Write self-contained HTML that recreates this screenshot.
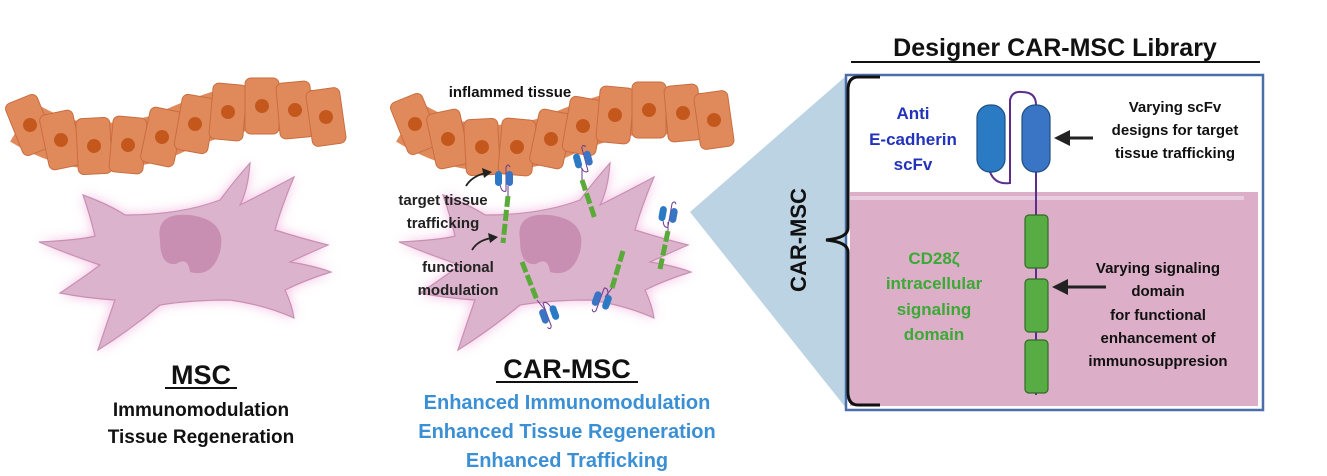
<!DOCTYPE html>
<html><head><meta charset="utf-8"><style>
html,body{margin:0;padding:0;background:#fff}
svg{display:block}
text{font-family:"Liberation Sans",sans-serif;font-weight:bold}
</style></head><body>
<svg width="1327" height="476" viewBox="0 0 1327 476" xmlns="http://www.w3.org/2000/svg">
<defs>
<filter id="glow" x="-20%" y="-20%" width="140%" height="140%"><feGaussianBlur stdDeviation="6"/></filter>
<g id="cell">
<path d="M39,242 Q80,240 95,236 Q90,215 83,195 Q110,205 125,215 Q180,215 220,200 Q235,180 250,163 Q248,190 240,205 Q270,190 294,177 Q282,205 275,230 Q300,238 328,245 Q305,255 290,262 Q315,266 331,272 Q305,280 285,290 Q292,305 294,318 Q265,305 230,300 Q190,300 160,305 Q130,330 98,350 Q108,320 115,300 Q85,298 60,293 Q80,280 100,265 Q70,255 39,242 Z"/>
</g>
<g id="tc"><rect x="-17" y="-28" width="34" height="56" rx="6" fill="#e08a5c" stroke="#c96d3f" stroke-width="1"/><circle cx="0" cy="0" r="7" fill="#c4581c"/></g>
<g id="scfv"><path d="M-4,6 Q-2,14 2,12 L2,-12 Q4,-16 6,-12" fill="none" stroke="#6a3a8a" stroke-width="1"/><rect x="-9" y="-8" width="7" height="15" rx="3.5" fill="#2b7bc4"/><rect x="2" y="-8" width="7" height="15" rx="3.5" fill="#3a74c4"/></g>
</defs>

<!-- left cell -->
<use href="#cell" fill="#f0a8d8" filter="url(#glow)" opacity="0.8"/>
<use href="#cell" fill="#dcb3cc" stroke="#c98fb3" stroke-width="1.2"/>
<path d="M160,240 Q155,212 190,215 Q228,220 220,252 Q212,278 190,272 Q188,256 176,264 Q160,266 160,240Z" fill="#c98fb3"/>

<!-- middle cell -->
<g transform="translate(360,0)">
<use href="#cell" fill="#f0a8d8" filter="url(#glow)" opacity="0.8"/>
<use href="#cell" fill="#dcb3cc" stroke="#c98fb3" stroke-width="1.2"/>
<path d="M160,240 Q155,212 190,215 Q228,220 220,252 Q212,278 190,272 Q188,256 176,264 Q160,266 160,240Z" fill="#c98fb3"/>
</g>

<!-- left tissue -->
<path d="M22,122 Q60,145 94,146 Q130,147 163,136 Q197,120 228,111 Q262,104 294,110 L330,117" fill="none" stroke="#e08a5c" stroke-width="46" stroke-linejoin="round"/>
<g>
<use href="#tc" transform="translate(30,125) rotate(-22)"/>
<use href="#tc" transform="translate(61,140) rotate(-12)"/>
<use href="#tc" transform="translate(94,146) rotate(-3)"/>
<use href="#tc" transform="translate(128,145) rotate(5)"/>
<use href="#tc" transform="translate(162,137) rotate(12)"/>
<use href="#tc" transform="translate(195,124) rotate(10)"/>
<use href="#tc" transform="translate(228,112) rotate(5)"/>
<use href="#tc" transform="translate(262,106) rotate(0)"/>
<use href="#tc" transform="translate(295,110) rotate(-5)"/>
<use href="#tc" transform="translate(326,117) rotate(-8)"/>
</g>
<!-- middle tissue -->
<path d="M408,122 Q446,145 481,148 Q517,149 551,139 Q583,124 615,115 Q649,108 683,113 L716,120" fill="none" stroke="#e08a5c" stroke-width="46" stroke-linejoin="round"/>
<g>
<use href="#tc" transform="translate(415,124) rotate(-22)"/>
<use href="#tc" transform="translate(448,139) rotate(-12)"/>
<use href="#tc" transform="translate(482,147) rotate(-3)"/>
<use href="#tc" transform="translate(517,147) rotate(5)"/>
<use href="#tc" transform="translate(551,139) rotate(12)"/>
<use href="#tc" transform="translate(583,126) rotate(10)"/>
<use href="#tc" transform="translate(615,115) rotate(5)"/>
<use href="#tc" transform="translate(649,110) rotate(0)"/>
<use href="#tc" transform="translate(683,113) rotate(-5)"/>
<use href="#tc" transform="translate(714,120) rotate(-8)"/>
</g>

<!-- receptors -->
<g stroke="#5aaa3a" stroke-width="5" stroke-dasharray="11,3" fill="none">
<line x1="508" y1="196" x2="503" y2="243"/>
<line x1="582" y1="180" x2="595" y2="219"/>
<line x1="668" y1="231" x2="660" y2="269"/>
<line x1="522" y1="262" x2="537" y2="300"/>
<line x1="623" y1="251" x2="612" y2="288"/>
</g>
<g stroke="#6a3a8a" stroke-width="1">
<line x1="508" y1="186" x2="508" y2="196"/><line x1="582" y1="168" x2="582" y2="180"/><line x1="668" y1="222" x2="668" y2="231"/><line x1="537" y1="300" x2="545" y2="310"/><line x1="612" y1="288" x2="605" y2="297"/>
</g>
<use href="#scfv" transform="translate(504,179)"/>
<use href="#scfv" transform="translate(583,160) rotate(-15)"/>
<use href="#scfv" transform="translate(668,215) rotate(10)"/>
<use href="#scfv" transform="translate(549,314) rotate(160)"/>
<use href="#scfv" transform="translate(602,300) rotate(200)"/>

<!-- labels middle -->
<text x="510" y="97" font-size="15" text-anchor="middle" fill="#111">inflammed tissue</text>
<text x="443" y="205" font-size="15" text-anchor="middle" fill="#222">target tissue</text>
<text x="443" y="228" font-size="15" text-anchor="middle" fill="#222">trafficking</text>
<text x="458" y="272" font-size="15" text-anchor="middle" fill="#222">functional</text>
<text x="458" y="295" font-size="15" text-anchor="middle" fill="#222">modulation</text>
<path d="M466,186 Q472,176 486,173" fill="none" stroke="#222" stroke-width="1.8"/>
<polygon points="492,172 482,168 484,178" fill="#222"/>
<path d="M472,250 Q478,240 492,238" fill="none" stroke="#222" stroke-width="1.8"/>
<polygon points="498,237 488,233 490,243" fill="#222"/>

<!-- bottom labels -->
<text x="201" y="384" font-size="27" text-anchor="middle" fill="#111">MSC</text>
<line x1="165" y1="388" x2="237" y2="388" stroke="#111" stroke-width="2"/>
<text x="201" y="416" font-size="19" text-anchor="middle" fill="#111">Immunomodulation</text>
<text x="201" y="443" font-size="19" text-anchor="middle" fill="#111">Tissue Regeneration</text>
<text x="567" y="378" font-size="27" text-anchor="middle" fill="#111">CAR-MSC</text>
<line x1="496" y1="382" x2="638" y2="382" stroke="#111" stroke-width="2"/>
<text x="567" y="409" font-size="20" text-anchor="middle" fill="#3b8fd4">Enhanced Immunomodulation</text>
<text x="567" y="438" font-size="20" text-anchor="middle" fill="#3b8fd4">Enhanced Tissue Regeneration</text>
<text x="567" y="467" font-size="20" text-anchor="middle" fill="#3b8fd4">Enhanced Trafficking</text>

<!-- wedge -->
<polygon points="690,212 846,76 846,408" fill="#bcd3e3"/>

<!-- title -->
<text x="1055" y="56" font-size="25" text-anchor="middle" fill="#111">Designer CAR-MSC Library</text>
<line x1="851" y1="62" x2="1260" y2="62" stroke="#111" stroke-width="2"/>

<!-- box -->
<rect x="846" y="75" width="417" height="335" fill="#fff" stroke="#4a6fa8" stroke-width="2.5"/>
<rect x="850" y="192" width="408" height="214" fill="#dcaec8"/>
<rect x="850" y="196" width="394" height="4" fill="#e8cde0"/>

<!-- bracket -->
<path d="M880,77 L858,77 Q848,77 848,90 L848,228 Q848,238 826,240 Q848,242 848,252 L848,392 Q848,405 858,405 L880,405" fill="none" stroke="#111" stroke-width="3"/>
<text transform="translate(806,240) rotate(-90)" font-size="22" text-anchor="middle" fill="#111">CAR-MSC</text>

<!-- CAR construct -->
<path d="M990,172 Q995,185 1010,183 L1010,100 Q1012,91 1022,92 Q1036,92 1036,105" fill="none" stroke="#5c2d8a" stroke-width="2"/>
<line x1="1036" y1="170" x2="1036" y2="395" stroke="#5c2d8a" stroke-width="2"/>
<rect x="977" y="105" width="28" height="67" rx="13" fill="#2b7bc4" stroke="#1e4f85" stroke-width="1.2"/>
<rect x="1022" y="105" width="28" height="67" rx="13" fill="#3a74c4" stroke="#1e4f85" stroke-width="1.2"/>
<rect x="1025" y="215" width="23" height="53" rx="4" fill="#57ad43" stroke="#2f6b25" stroke-width="1.2"/>
<rect x="1025" y="279" width="23" height="53" rx="4" fill="#57ad43" stroke="#2f6b25" stroke-width="1.2"/>
<rect x="1025" y="340" width="23" height="53" rx="4" fill="#57ad43" stroke="#2f6b25" stroke-width="1.2"/>

<!-- arrows -->
<line x1="1093" y1="138" x2="1066" y2="138" stroke="#222" stroke-width="3"/>
<polygon points="1054,138 1070,130 1070,146" fill="#222"/>
<line x1="1106" y1="287" x2="1064" y2="287" stroke="#222" stroke-width="3"/>
<polygon points="1052,287 1068,279 1068,295" fill="#222"/>

<!-- box texts -->
<g font-size="17" fill="#2233bb" text-anchor="middle">
<text x="913" y="119">Anti</text>
<text x="913" y="145">E-cadherin</text>
<text x="913" y="170">scFv</text>
</g>
<g font-size="15" fill="#111" text-anchor="middle">
<text x="1175" y="112">Varying scFv</text>
<text x="1175" y="135">designs for target</text>
<text x="1175" y="158">tissue trafficking</text>
</g>
<g font-size="17" fill="#3aaa35" text-anchor="middle">
<text x="934" y="264">CD28ζ</text>
<text x="934" y="289">intracellular</text>
<text x="934" y="315">signaling</text>
<text x="934" y="340">domain</text>
</g>
<g font-size="15" fill="#111" text-anchor="middle">
<text x="1158" y="273">Varying signaling</text>
<text x="1158" y="296">domain</text>
<text x="1158" y="320">for functional</text>
<text x="1158" y="343">enhancement of</text>
<text x="1158" y="366">immunosuppresion</text>
</g>
</svg>
</body></html>
